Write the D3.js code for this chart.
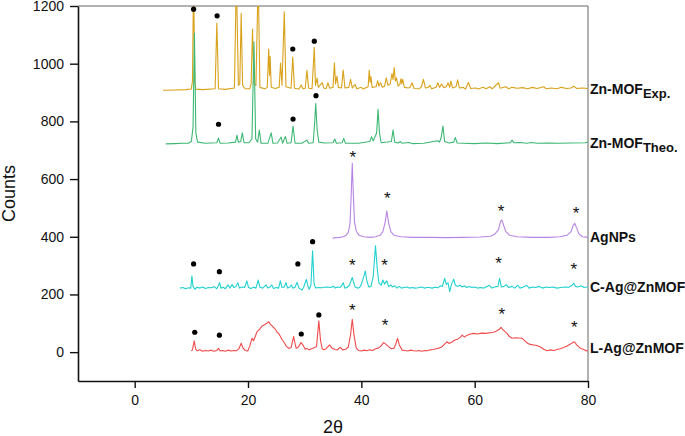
<!DOCTYPE html>
<head>
  <meta charset="utf-8">
  <script src="https://d3js.org/d3.v7.min.js"></script>
  <style>
    body { margin: 0; background: #fff; }
    text { font-family: "Liberation Sans", Arial, sans-serif; }
  </style>
</head>
<body>
<div class="chart"></div>
<script>
// 2theta / counts pairs
var znMofExp = [[5,908],[7,909],[9,910],[10.0,912],[10.2,940],[10.4,1300],[10.6,940],[10.8,912],[12,910],[14.2,913],[14.5,1141],[14.8,913],[16,911],[17.6,916],[17.95,1300],[18.3,925],[18.55,930],[18.8,1175],[19.05,925],[19.5,913],[20.3,913],[20.55,930],[20.8,1120],[21.05,930],[21.4,925],[21.8,1300],[22.1,918],[23,913],[23.4,918],[23.65,1051],[23.8,960],[23.9,1026],[24.1,918],[24.8,914],[25.5,918],[25.75,1002],[26.0,925],[26.4,1180],[26.7,920],[27.6,915],[27.9,1023],[28.2,915],[29.0,912],[29.4,926],[29.7,913],[30.1,915],[30.4,977],[30.7,915],[31.3,913],[31.7,1057],[31.9,925],[32.2,950],[32.4,918],[33.1,934],[33.4,915],[33.8,914],[34.1,934],[34.4,915],[35.0,918],[35.25,1003],[35.45,930],[35.7,957],[35.95,918],[36.5,916],[36.8,978],[37.1,916],[37.8,918],[38.1,946],[38.4,916],[38.9,928],[39.2,913],[40,918],[40.3,912],[41.2,920],[41.4,978],[41.55,935],[41.7,955],[41.9,918],[42.6,920],[42.9,941],[43.1,922],[43.4,934],[43.7,918],[44.1,922],[44.4,951],[44.7,925],[45.1,930],[45.4,966],[45.6,945],[45.8,987],[46.0,940],[46.2,951],[46.5,922],[46.8,928],[47.0,948],[47.15,930],[47.3,946],[47.6,918],[48.3,916],[48.6,918],[48.95,934],[49.3,914],[50.2,913],[50.6,920],[50.95,946],[51.3,916],[51.8,918],[52.1,925],[52.4,913],[53.2,918],[53.5,934],[53.8,918],[54.2,930],[54.5,917],[55.0,920],[55.3,934],[55.6,918],[55.8,940],[56.1,916],[56.7,920],[57.0,944],[57.3,916],[58.0,918],[58.4,912],[58.9,935],[59.3,914],[60.2,916],[60.6,912],[61.5,918],[62,913],[62.7,920],[63.1,913],[64.2,934],[64.5,915],[65.5,920],[66.0,913],[66.6,918],[67.5,915],[68.5,917],[69.3,913],[70.2,918],[71,914],[72.2,920],[72.6,913],[73.5,916],[74.5,913],[75.3,918],[76.2,914],[77.0,916],[77.5,922],[78,914],[79,916],[80,914]];

var znMofTheo = [[5.5,722],[7,723],[8.5,724],[9.5,724],[10.0,730],[10.3,780],[10.55,1105],[10.8,760],[11.1,728],[12.5,724],[14.5,726],[14.8,742],[15.1,724],[16.5,725],[17.8,728],[18.05,752],[18.3,728],[18.7,730],[19.0,760],[19.3,726],[20.2,726],[20.7,740],[21.05,1076],[21.35,740],[21.7,728],[22.0,770],[22.3,724],[23.5,724],[24.1,760],[24.4,724],[25.2,725],[25.85,746],[26.1,724],[26.6,748],[26.9,724],[27.6,726],[27.95,784],[28.3,724],[29.5,724],[30.4,735],[30.7,724],[31.5,726],[31.75,790],[31.95,862],[32.2,770],[32.5,728],[33.5,725],[35.0,726],[35.3,739],[35.6,724],[36.6,726],[36.9,741],[37.2,724],[38,724],[39.5,724],[41.5,730],[41.8,747],[42.1,732],[42.7,760],[42.95,842],[43.2,760],[43.5,726],[45.3,730],[45.6,770],[45.9,728],[46.5,725],[46.9,730],[47.2,724],[48.35,727],[49,723],[51,724],[53.5,733],[53.8,728],[54.1,745],[54.4,784],[54.7,730],[55.5,725],[56.3,728],[56.6,744],[56.9,725],[58,724],[60,723],[62,725],[64,723],[66.3,726],[66.6,735],[66.9,726],[68,727],[69.2,724],[70,727],[71,724],[73,725],[75,724],[77,725],[79.5,726],[80,728]];

var agNPs = [[34.9,395],[35.5,397],[36.2,398],[36.8,400],[37.3,405],[37.7,415],[38.0,445],[38.2,540],[38.4,655],[38.6,540],[38.8,450],[39.1,420],[39.6,405],[40.5,400],[41.5,398],[42.5,400],[43.3,405],[43.8,418],[44.2,450],[44.5,489],[44.8,450],[45.2,418],[45.8,405],[47,400],[49,398],[52,398],[55,397],[58,398],[61,399],[62.8,402],[63.6,410],[64.2,425],[64.6,455],[64.8,458],[65.1,440],[65.5,418],[66.2,405],[67.5,400],[70,398],[73,398],[75,400],[76.3,405],[77.0,418],[77.4,440],[77.65,447],[78.0,430],[78.4,410],[79,400],[80,398]];

var cAgZnMof = [[8.0,222],[8.5,224],[9.0,220],[9.5,223],[9.9,222],[10.1,264],[10.3,228],[10.6,218],[11,225],[11.5,222],[12,226],[12.5,221],[13,224],[13.5,223],[14,227],[14.5,220],[14.8,232],[15,241],[15.2,222],[15.6,225],[16,220],[16.5,233],[16.8,222],[17.2,234],[17.5,224],[17.9,228],[18.2,241],[18.5,222],[19,226],[19.4,224],[19.8,247],[20.1,224],[20.5,221],[21,225],[21.4,222],[21.8,250],[22.1,225],[22.6,222],[23.2,233],[23.5,222],[23.9,226],[24.2,233],[24.5,221],[25,224],[25.4,222],[25.7,247],[26.0,224],[26.4,226],[26.7,241],[27.0,222],[27.4,226],[27.65,233],[27.9,222],[28.3,225],[28.65,242],[29.0,222],[29.5,215],[29.8,224],[30.3,252],[30.6,228],[30.8,218],[31.1,232],[31.4,351],[31.65,240],[31.9,223],[32.5,224],[33,223],[33.5,225],[34,226],[34.5,224],[35.1,228],[35.4,222],[35.8,226],[36.2,224],[36.5,230],[36.8,241],[37.1,222],[37.5,225],[37.9,232],[38.2,248],[38.4,259],[38.6,245],[38.9,226],[39.3,222],[39.7,224],[40.0,235],[40.4,260],[40.7,281],[41.0,245],[41.3,226],[41.7,228],[42.1,262],[42.5,369],[42.8,290],[43.1,240],[43.5,232],[43.8,250],[44.1,236],[44.5,247],[44.8,228],[45.2,232],[45.5,226],[45.9,230],[46.3,222],[46.7,228],[47.1,222],[47.5,224],[48,226],[48.5,222],[49,224],[49.5,222],[50,223],[50.6,226],[51.1,222],[51.6,224],[52,224],[52.5,222],[53,225],[53.5,223],[54,230],[54.3,228],[54.7,256],[55.0,235],[55.3,240],[55.6,210],[55.9,235],[56.3,253],[56.6,232],[57,228],[57.4,232],[57.8,226],[58.2,230],[58.6,224],[59,228],[59.5,224],[60,226],[60.5,222],[61,224],[61.6,222],[62,226],[62.6,232],[63,222],[63.5,226],[64.1,228],[64.4,256],[64.7,226],[65.2,228],[65.6,234],[66,224],[66.6,228],[67.1,222],[67.6,232],[68,222],[68.6,226],[69.2,232],[69.6,222],[70.2,226],[70.8,224],[71.4,228],[72,222],[72.6,226],[73.2,224],[73.8,226],[74.5,222],[75.2,224],[76,226],[76.6,225],[77.2,232],[77.5,239],[77.8,228],[78.2,226],[78.8,230],[79.3,224],[79.8,226],[80,228]];

var lAgZnMof = [[10.0,5],[10.2,8],[10.5,39],[10.75,12],[11,5],[11.5,8],[12,3],[12.5,6],[13,4],[13.5,7],[14,3],[14.5,6],[14.8,13],[15.1,4],[15.5,6],[16,3],[16.5,7],[17,4],[17.5,6],[18,5],[18.4,12],[18.8,31],[19.1,15],[19.5,6],[19.95,4],[20.3,20],[20.7,48],[21.0,40],[21.3,55],[21.6,71],[22.0,78],[22.5,91],[22.9,95],[23.3,100],[23.65,106],[23.9,98],[24.2,92],[24.5,86],[24.8,80],[25.1,70],[25.4,65],[25.7,55],[26.0,44],[26.3,36],[26.7,22],[27.2,13],[27.6,16],[28.05,54],[28.3,30],[28.5,13],[28.9,18],[29.35,33],[29.7,25],[30.1,10],[30.4,13],[30.8,8],[31.2,12],[31.7,15],[32.1,20],[32.5,109],[32.8,40],[33.1,12],[33.4,8],[33.8,12],[34.4,25],[34.8,14],[35.3,9],[35.8,8],[36.3,17],[36.7,8],[37.2,10],[37.7,18],[38.1,60],[38.4,114],[38.7,60],[39.1,15],[39.5,6],[40,4],[40.5,7],[41,5],[41.5,8],[42,6],[42.5,12],[43,14],[43.5,22],[43.9,33],[44.3,28],[44.8,19],[45.3,12],[45.8,14],[46.1,30],[46.4,48],[46.7,25],[47.2,7],[47.7,6],[48.2,4],[48.7,7],[49.2,5],[49.7,4],[50.2,6],[50.7,3],[51.2,6],[51.7,5],[52.2,8],[52.7,9],[53.2,12],[53.7,14],[54.2,18],[54.7,28],[55.1,36],[55.5,30],[56,35],[56.5,42],[57,45],[57.5,52],[57.8,59],[58.2,52],[58.6,58],[59.1,62],[59.8,65],[60.5,63],[61.2,66],[62,65],[62.5,67],[63.1,68],[63.6,71],[64.0,75],[64.4,80],[64.65,86],[64.9,80],[65.3,72],[65.7,65],[66.1,55],[66.6,48],[67.2,50],[67.8,49],[68.4,48],[68.9,38],[69.4,30],[69.8,27],[70.4,25],[71,23],[71.6,18],[72.2,10],[72.8,5],[73.4,8],[74,6],[74.5,9],[75.1,12],[75.7,16],[76.3,21],[76.9,28],[77.3,33],[77.6,36],[78.0,25],[78.4,18],[78.7,13],[79.2,10],[79.7,4],[80,6]];

// peak markers: dots = Zn-MOF, stars = Ag
var dotMarks = [[10.4,1189],[14.55,1166],[27.9,1051],[31.7,1078],
                [14.8,790],[27.95,808],[32.0,889],
                [10.4,306],[14.95,279],[28.8,306],[31.4,383],
                [10.6,69],[14.95,59],[29.4,63],[32.5,129]];
var starMarks = [[38.5,687],[44.6,548],[64.65,502],[77.9,493],
                 [38.4,316],[44.1,313],[64.2,322],[77.5,299],
                 [38.4,160],[44.2,106],[64.8,144],[77.6,100]];

var seriesNames = ["Zn-MOF", "Zn-MOF", "AgNPs", "C-Ag@ZnMOF", "L-Ag@ZnMOF"];
var seriesSubs = ["Exp.", "Theo.", "", "", ""];
var seriesLabelY = [912, 725, 400, 225, 15];
var seriesColors = ["#D9A21B", "#3DB874", "#B985E3", "#22D0D0", "#F04B4B"];

var xTicks = [0, 20, 40, 60, 80];
var xMinor = [10, 30, 50, 70];
var yTicks = [0, 200, 400, 600, 800, 1000, 1200];
var yMinor = [-100, 100, 300, 500, 700, 900, 1100];

(function() {
  var width = 685, height = 436;
  var left = 78, right = 588, top = 6, bottom = 381;

  var svg = d3.select(".chart").append("svg")
    .attr("width", width)
    .attr("height", height);

  var x = d3.scaleLinear().domain([-10, 80]).range([left, right]);
  var y = d3.scaleLinear().domain([-100, 1200]).range([bottom, top]);

  svg.append("defs").append("clipPath")
    .attr("id", "plot")
    .append("rect")
    .attr("x", left).attr("y", top)
    .attr("width", right - left).attr("height", bottom - top);

  // frame top + right
  svg.append("path")
    .attr("d", "M" + left + "," + top + "H" + right + "V" + bottom)
    .attr("fill", "none")
    .attr("stroke", "#666")
    .attr("stroke-width", 1);

  var line = d3.line()
    .x(function(d) { return x(d[0]) })
    .y(function(d) { return y(d[1]) });

  var all = [znMofExp, znMofTheo, agNPs, cAgZnMof, lAgZnMof];
  svg.append("g").attr("clip-path", "url(#plot)")
    .selectAll("path")
    .data(all)
    .enter().append("path")
    .attr("d", line)
    .attr("fill", "none")
    .attr("stroke", function(d, i) { return seriesColors[i] })
    .attr("stroke-width", 1.1)
    .attr("stroke-linejoin", "round");

  // axes
  var fmt = d3.format("d");
  var gx = svg.append("g").attr("transform", "translate(0," + bottom + ")");
  gx.call(d3.axisBottom(x).tickValues(xMinor).tickSize(4).tickSizeOuter(0).tickFormat(""));
  gx.call(d3.axisBottom(x).tickValues(xTicks).tickSize(7).tickPadding(7).tickSizeOuter(0).tickFormat(fmt));

  var gy = svg.append("g").attr("transform", "translate(" + left + ",0)");
  gy.call(d3.axisLeft(y).tickValues(yMinor).tickSize(4).tickSizeOuter(0).tickFormat(""));
  gy.call(d3.axisLeft(y).tickValues(yTicks).tickSize(8).tickPadding(6).tickSizeOuter(0).tickFormat(fmt));

  svg.selectAll(".domain").attr("stroke", "#111").attr("stroke-width", 1.6);
  svg.selectAll(".tick line").attr("stroke", "#111").attr("stroke-width", 1.4);
  svg.selectAll(".tick text")
    .attr("font-family", "Liberation Sans, Arial, sans-serif")
    .attr("font-size", 14)
    .attr("fill", "#111");

  // axis titles
  svg.append("text")
    .attr("transform", "translate(15," + ((top + bottom) / 2) + ") rotate(-90)")
    .attr("text-anchor", "middle")
    .attr("font-size", 18)
    .attr("fill", "#111")
    .text("Counts");

  svg.append("text")
    .attr("x", (left + right) / 2)
    .attr("y", 433)
    .attr("text-anchor", "middle")
    .attr("font-size", 18)
    .attr("fill", "#111")
    .text("2θ");

  // markers
  svg.selectAll(".dot")
    .data(dotMarks)
    .enter().append("circle")
    .attr("class", "dot")
    .attr("cx", function(d) { return x(d[0]) })
    .attr("cy", function(d) { return y(d[1]) })
    .attr("r", 2.6)
    .attr("fill", "#000");

  svg.selectAll(".star")
    .data(starMarks)
    .enter().append("text")
    .attr("class", "star")
    .attr("x", function(d) { return x(d[0]) })
    .attr("y", function(d) { return y(d[1]) + 9.5 })
    .attr("text-anchor", "middle")
    .attr("font-size", 17)
    .attr("fill", "#111")
    .text("*");

  // series labels on right
  var labels = svg.selectAll(".lab")
    .data(seriesNames)
    .enter().append("text")
    .attr("class", "lab")
    .attr("x", right + 2)
    .attr("y", function(d, i) { return y(seriesLabelY[i]) + 5 })
    .attr("font-size", 14)
    .attr("font-weight", "bold")
    .attr("fill", "#111");
  labels.append("tspan").text(function(d) { return d });
  labels.append("tspan")
    .attr("dy", 4)
    .attr("font-size", 13)
    .text(function(d, i) { return seriesSubs[i] });
})();
</script>
</body>
